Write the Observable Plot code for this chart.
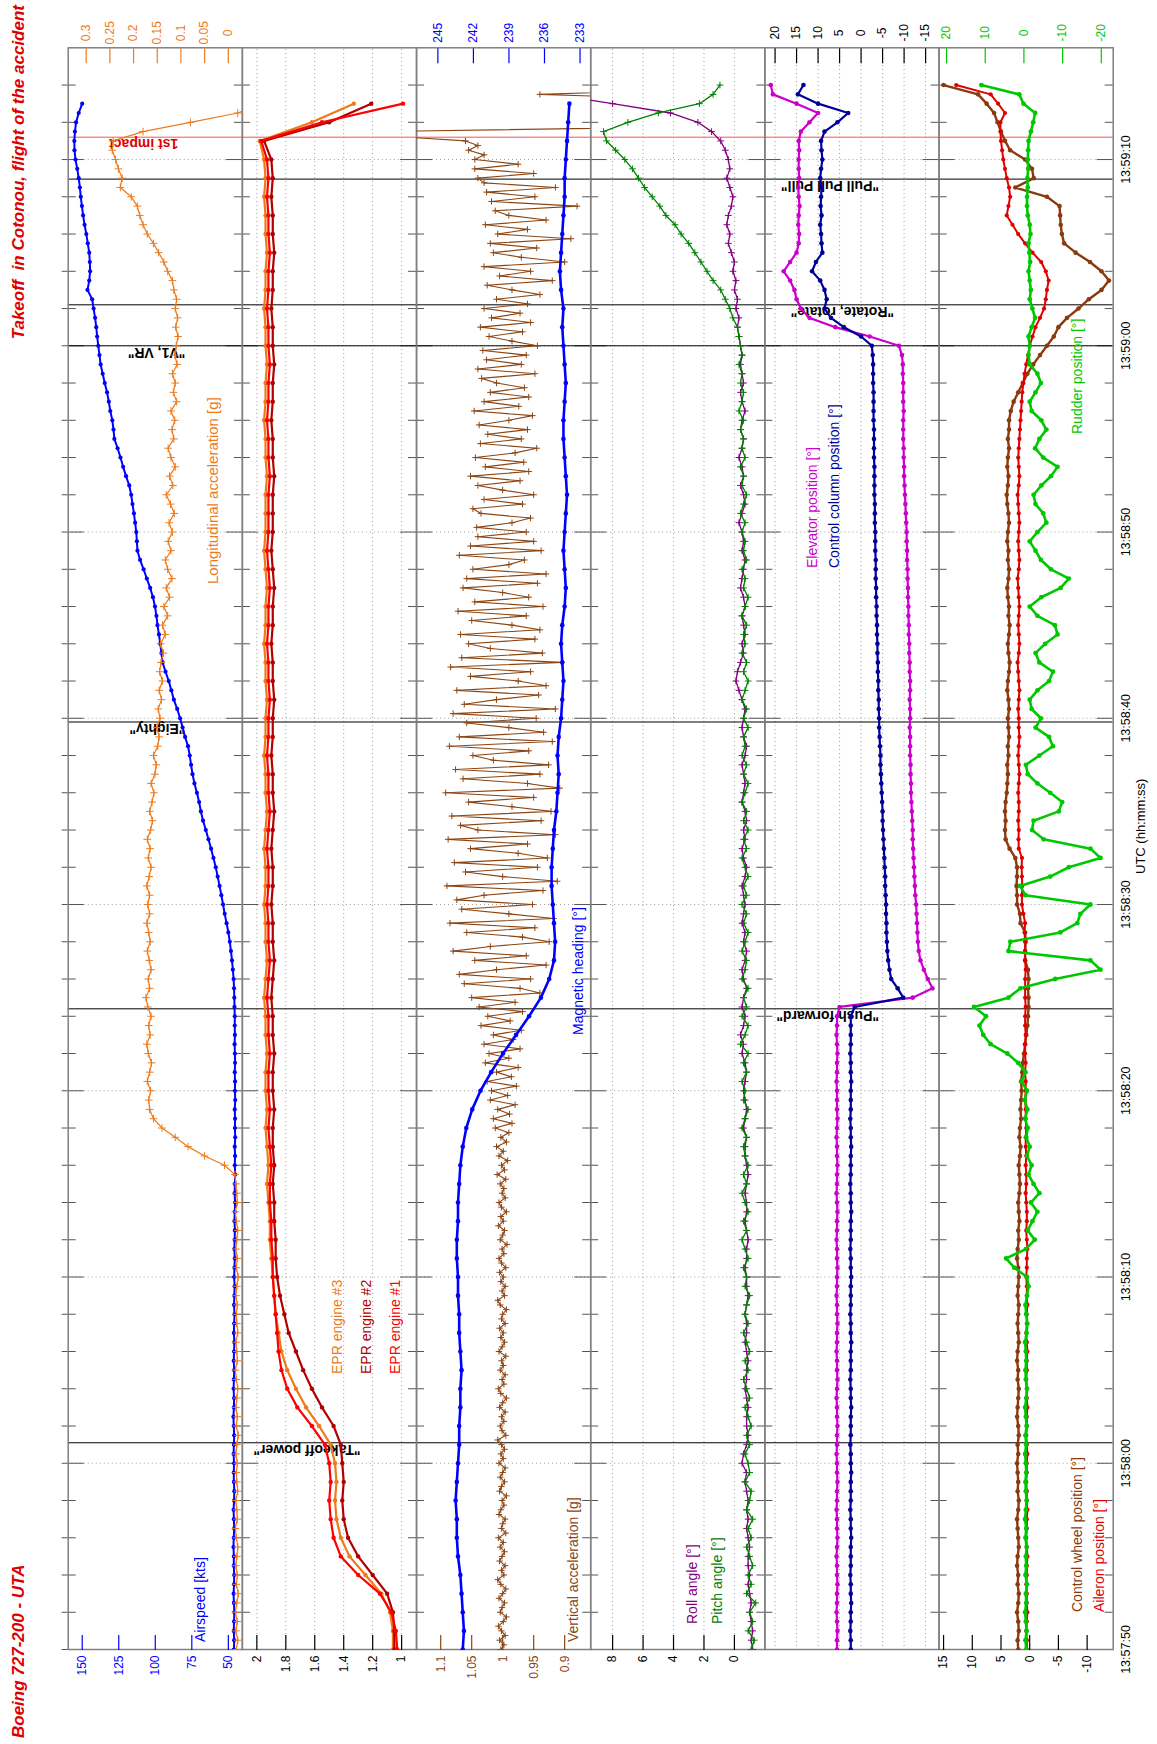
<!DOCTYPE html>
<html><head><meta charset="utf-8">
<script src="https://cdn.jsdelivr.net/npm/d3@7"></script>
<script src="https://cdn.jsdelivr.net/npm/@observablehq/plot@0.6"></script>
<style>
html,body{margin:0;padding:0;background:#fff;}
#page{position:relative;width:1157px;height:1744px;overflow:hidden;background:#fff;}
#land{position:absolute;left:0;top:0;width:1744px;height:1157px;transform-origin:0 0;transform:translateY(1744px) rotate(-90deg);}
#land svg{position:absolute;left:0;top:0;}
</style></head>
<body><div id="page"><div id="land"></div></div>
<script>
// ---------------- DATA (time in seconds after 13:57:50 UTC) ----------------
const airspeedStart = 0, airspeedStep = 0.5;
const airspeed = [
46.2,46.0,46.3,46.1,45.9,46.2,46.4,46.1,46.0,46.3,46.2,46.5,46.3,46.0,46.2,46.4,46.1,45.9,46.2,46.3,
46.1,46.4,46.2,46.0,46.3,46.5,46.2,46.1,46.4,46.2,46.0,46.3,46.1,45.9,46.2,46.0,45.8,46.1,45.9,45.7,
46.0,45.8,45.6,45.9,45.7,45.5,45.8,45.6,45.4,45.7,45.5,45.3,45.6,45.4,45.6,45.3,45.5,45.4,45.6,45.3,
45.5,45.4,45.6,45.4,45.5,45.7,45.5,45.6,45.6,45.8,45.9,46.1,46.4,46.9,
47.5,48.2,49.0,50.0,51.2,52.5,53.6,54.8,56.0,57.3,
58.6,60.2,61.8,63.6,65.4,67.3,68.8,70.0,71.5,73.2,
74.5,75.5,76.4,77.6,79.6,81.3,83.0,85.0,87.3,89.0,
90.8,93.0,95.0,95.8,96.6,97.5,98.5,99.2,100.2,101.6,
103.5,105.8,108.0,110.4,112.2,112.6,113.0,113.8,114.6,115.6,
116.5,117.8,120.0,122.0,123.8,125.8,128.0,128.6,129.4,130.8,
131.8,133.0,134.6,136.0,137.4,138.2,139.0,139.8,140.4,141.2,
142.2,143.2,146.4,145.2,144.6,144.8,145.2,146.2,147.2,148.4,
149.4,150.2,151.0,151.6,152.4,153.4,154.6,155.3,155.4,155.0,
154.2,152.4,150.0];

const longAccStart = 0, longAccStep = 0.5;
const longAcc = [
-0.017,-0.020,-0.016,-0.019,-0.015,-0.018,-0.021,-0.017,-0.019,-0.016,
-0.018,-0.020,-0.017,-0.015,-0.019,-0.018,-0.016,-0.020,-0.018,-0.017,
-0.019,-0.016,-0.018,-0.021,-0.017,-0.019,-0.016,-0.018,-0.020,-0.017,
-0.015,-0.019,-0.018,-0.016,-0.020,-0.018,-0.017,-0.019,-0.016,-0.018,
-0.021,-0.017,-0.019,-0.016,-0.018,-0.020,-0.017,-0.015,-0.019,-0.018,-0.016,
-0.014,0.008,0.050,0.085,0.112,0.140,0.158,0.166,
0.168,0.164,0.171,0.166,0.162,0.169,0.172,0.165,0.168,0.163,0.170,0.174,0.166,0.169,0.163,0.167,0.171,0.165,0.168,0.172,0.166,0.170,
0.166,0.172,0.167,0.163,0.169,0.165,0.171,0.164,0.160,0.166,0.161,0.157,0.163,0.155,0.152,0.158,0.149,0.146,0.151,0.144,
0.148,0.141,0.146,0.139,0.145,0.142,0.137,0.143,0.133,0.139,0.128,0.136,0.124,0.131,0.119,0.128,0.133,0.121,0.127,0.118,
0.125,0.114,0.122,0.131,0.117,0.124,0.112,0.121,0.127,0.115,0.119,0.113,0.121,0.109,0.116,0.112,0.118,0.108,0.113,0.110,
0.106,0.111,0.107,0.112,0.109,0.115,0.118,0.128,0.136,0.147,0.158,0.171,0.180,0.187,0.192,0.205,0.228,0.224,0.232,0.238,0.245,0.243,
0.180,0.080,-0.020,-0.070];

const eprStart = 0, eprStep = 1;
const epr1 = [
1.03,1.04,1.07,1.15,1.30,1.42,1.47,1.49,1.50,1.49,1.50,
1.53,1.62,1.72,1.79,1.83,1.85,1.86,1.87,1.88,1.89,
1.89,1.90,1.90,1.91,1.91,1.90,1.91,1.92,1.91,1.92,
1.92,1.91,1.92,1.92,1.93,1.92,1.91,1.92,1.92,1.93,
1.92,1.92,1.93,1.92,1.91,1.92,1.92,1.93,1.92,1.92,
1.91,1.92,1.92,1.93,1.92,1.92,1.91,1.92,1.93,1.92,
1.92,1.92,1.91,1.92,1.92,1.93,1.92,1.92,1.91,1.92,
1.92,1.93,1.92,1.92,1.91,1.92,1.92,1.93,1.92,1.93,
1.97,1.55,0.99];
const epr2 = [
1.05,1.05,1.06,1.10,1.20,1.30,1.37,1.40,1.41,1.40,1.41,
1.42,1.47,1.55,1.62,1.68,1.73,1.78,1.81,1.84,1.86,
1.87,1.87,1.88,1.88,1.89,1.88,1.89,1.89,1.88,1.89,
1.89,1.88,1.89,1.89,1.90,1.89,1.88,1.89,1.89,1.90,
1.89,1.89,1.90,1.89,1.88,1.89,1.89,1.90,1.89,1.89,
1.88,1.89,1.89,1.90,1.89,1.89,1.88,1.89,1.90,1.89,
1.89,1.89,1.88,1.89,1.89,1.90,1.89,1.89,1.88,1.89,
1.89,1.90,1.89,1.89,1.88,1.89,1.89,1.90,1.89,1.90,
1.95,1.50,1.21];
const epr3 = [
1.06,1.06,1.08,1.14,1.25,1.36,1.42,1.45,1.46,1.45,1.46,
1.49,1.57,1.66,1.73,1.79,1.83,1.85,1.87,1.88,1.89,
1.90,1.91,1.91,1.92,1.93,1.92,1.93,1.94,1.93,1.94,
1.94,1.93,1.94,1.94,1.95,1.94,1.93,1.94,1.94,1.95,
1.94,1.94,1.95,1.94,1.93,1.94,1.94,1.95,1.94,1.94,
1.93,1.94,1.94,1.95,1.94,1.94,1.93,1.94,1.95,1.94,
1.94,1.94,1.93,1.94,1.94,1.95,1.94,1.94,1.93,1.94,
1.94,1.95,1.94,1.94,1.93,1.94,1.94,1.95,1.94,1.95,
1.98,1.62,1.33];

const headingStart = 0, headingStep = 1;
const heading = [
242.9,242.8,242.9,243.0,243.1,243.3,243.4,243.4,243.5,243.4,
243.3,243.2,243.2,243.1,243.1,243.0,243.1,243.2,243.2,243.3,
243.3,243.4,243.4,243.3,243.3,243.2,243.1,242.9,242.6,242.1,
241.4,240.5,239.5,238.4,237.3,236.3,235.6,235.2,235.1,235.2,
235.3,235.4,235.4,235.3,235.2,235.0,234.9,234.8,234.9,234.8,
234.6,234.5,234.4,234.5,234.6,234.5,234.3,234.2,234.3,234.4,
234.3,234.2,234.1,234.2,234.3,234.4,234.4,234.3,234.2,234.3,
234.4,234.5,234.4,234.6,234.7,234.6,234.5,234.4,234.3,234.3,
234.2,234.1,234.0,233.9];

const vertAccStart = 0, vertAccStep = 0.25;
const vertAcc = [
1.003,0.998,1.005,0.996,1.002,1.007,0.999,0.994,1.004,1.001,
0.997,1.006,1.000,0.995,1.003,1.008,0.998,1.002,0.996,1.005,
1.001,0.997,1.004,0.999,1.007,0.995,1.002,1.000,0.996,1.006,
1.003,0.998,1.001,0.994,1.005,1.002,0.997,1.004,1.000,0.996,
1.006,0.999,1.003,0.997,1.002,1.008,0.995,1.001,1.004,0.998,
1.002,0.996,1.005,1.000,0.994,1.003,1.007,0.998,1.001,0.996,
1.004,0.999,1.002,0.995,1.006,1.001,0.997,1.003,0.999,1.005,
0.996,1.002,1.000,0.994,1.004,1.008,0.997,1.001,0.996,1.003,
0.999,1.005,0.995,1.002,1.006,0.998,1.001,0.993,1.004,1.000,
0.997,1.007,0.999,1.003,0.994,1.002,1.006,0.996,1.001,0.998,
1.004,0.995,1.009,0.997,1.002,0.992,1.006,0.999,1.010,0.994,
1.003,0.990,
1.012,0.985,1.015,0.989,1.008,0.980,1.020,0.992,1.018,0.978,
1.025,0.986,1.010,0.975,1.028,0.990,1.022,0.972,1.030,0.983,
1.015,0.970,1.035,0.988,1.024,0.968,1.038,0.980,
1.050,0.940,0.972,1.062,0.955,1.070,1.010,0.930,1.045,0.962,
1.080,1.020,0.925,0.968,1.058,0.948,1.085,0.918,0.990,1.066,
0.952,1.074,1.030,0.935,1.090,0.912,1.000,1.060,0.944,1.078,
0.928,0.975,1.052,0.960,1.088,0.915,1.040,1.068,0.938,1.082,
0.922,0.985,1.055,0.950,1.092,0.908,0.960,1.064,0.940,1.076,
0.926,1.015,1.048,0.958,1.086,0.920,1.070,0.934,0.990,1.058,
0.946,1.080,0.915,1.062,1.010,0.942,1.074,0.930,0.975,1.052,
0.955,1.084,0.905,1.066,0.936,1.020,1.055,0.948,1.068,0.940,
0.985,1.050,0.962,1.072,0.935,1.045,0.958,1.000,1.064,0.944,
1.058,0.930,1.048,0.990,0.965,1.070,0.938,1.052,0.950,1.040,
0.962,1.042,0.985,0.955,1.035,1.048,0.968,1.030,0.950,1.000,
1.040,0.972,1.052,0.958,1.028,0.966,1.044,0.980,0.945,1.036,
0.970,1.024,0.960,1.038,0.990,0.952,1.046,0.974,1.030,0.958,
1.020,0.965,1.010,1.034,0.948,1.040,0.970,1.026,0.962,1.032,
0.944,0.985,1.022,0.968,1.036,0.955,1.018,0.972,
1.030,0.960,1.010,0.940,0.985,1.025,0.920,1.005,0.955,1.030,
0.900,0.970,1.015,0.945,1.020,0.890,1.008,0.960,1.028,0.930,
0.990,1.012,0.880,1.018,0.948,1.026,0.915,1.030,1.040,0.950,
1.045,0.975,
1.045,1.030,1.055,1.040,1.060,1.180,1.200,0.700,0.700,0.700,0.700,0.700,0.700,0.700,0.940,0.700];

const rollStart = 0, rollStep = 0.5;
const roll = [
-1.2,-1.1,-1.2,-1.1,-1.0,-1.1,-1.0,-0.9,-1.0,-0.9,-0.9,-1.0,-0.9,-0.8,-0.9,-0.8,-0.9,-0.8,-0.7,-0.8,
-0.5,-0.6,-0.8,-0.9,-0.8,-0.8,-0.9,-0.8,-0.7,-0.8,-0.8,-0.9,-0.8,-0.7,-0.8,-0.8,-0.7,-0.8,-0.9,-0.8,
-0.8,-0.7,-0.8,-0.8,-0.9,-0.8,-0.7,-0.8,-0.8,-0.7,-0.8,-0.9,-0.8,-0.7,-0.7,-0.8,-0.6,-0.7,-0.8,-0.7,
-0.6,-0.7,-0.8,-0.7,-0.5,-0.6,-0.4,-0.6,-0.7,-0.5,-0.6,-0.8,-0.6,-0.5,-0.7,-0.8,-0.6,-0.7,-0.5,-0.6,
-0.7,-0.6,-0.5,-0.7,-0.8,-0.6,-0.5,-0.7,-0.6,-0.8,-0.7,-0.5,-0.6,-0.7,-0.6,-0.5,-0.7,-0.8,-0.6,-0.5,
-0.6,-0.7,-0.5,-0.3,-0.1,-0.2,-0.4,-0.6,-0.5,-0.7,-0.6,-0.5,-0.7,-0.6,-0.4,-0.5,-0.6,-0.7,-0.5,-0.6,
-0.5,-0.3,-0.5,-0.7,-0.6,-0.4,-0.6,-0.5,-0.3,-0.5,-0.6,-0.4,-0.5,-0.7,-0.5,-0.4,-0.6,-0.5,-0.4,-0.5,
-0.4,-0.3,-0.2,-0.3,-0.1,-0.2,0.0,-0.1,0.1,0.0,0.2,0.4,0.3,0.5,0.4,0.2,0.1,0.3,0.5,0.3,
0.4,0.6,0.9,1.5,2.4,4.2,8.0,12.0];

const pitchStart = 0, pitchStep = 0.5;
const pitch = [
-1.1,-1.3,-0.9,-1.2,-1.0,-1.4,-0.8,-1.1,-0.9,-1.2,-1.0,-0.8,-1.1,-0.9,-1.2,-0.8,-1.0,-1.1,-0.7,-1.0,
-0.9,-0.7,-1.0,-0.8,-1.1,-0.9,-0.7,-1.0,-0.8,-0.6,-0.9,-0.7,-1.0,-0.8,-0.6,-0.9,-0.7,-0.8,-1.0,-0.7,
-0.8,-0.6,-0.9,-0.7,-0.5,-0.8,-0.6,-0.9,-0.7,-0.5,-0.8,-0.6,-0.9,-0.7,-0.6,-0.8,-0.5,-0.7,-0.9,-0.6,
-0.7,-0.5,-0.8,-0.6,-0.9,-0.4,-0.7,-0.9,-0.5,-0.8,-0.6,-0.9,-0.5,-0.7,-0.8,-0.5,-0.7,-0.9,-0.6,-0.8,
-0.5,-0.8,-0.6,-0.9,-0.7,-0.5,-0.8,-0.6,-0.9,-0.6,-0.8,-0.5,-0.7,-0.9,-0.6,-0.8,-0.5,-0.7,-0.6,-0.9,
-0.6,-0.8,-0.5,-0.7,-0.9,-0.6,-0.8,-0.5,-0.7,-0.6,-0.8,-0.5,-0.7,-0.9,-0.6,-0.7,-0.5,-0.8,-0.6,-0.7,
-0.5,-0.7,-0.4,-0.6,-0.8,-0.5,-0.6,-0.4,-0.7,-0.5,-0.6,-0.4,-0.6,-0.3,-0.5,-0.6,-0.4,-0.5,-0.3,-0.5,
-0.4,-0.3,-0.2,0.1,0.3,0.6,0.9,1.4,1.8,2.2,2.6,3.0,3.5,3.9,4.5,4.9,5.4,5.9,6.3,6.7,
7.2,7.8,8.4,8.6,7.0,5.0,2.3,1.4,0.95];

const elevatorStart = 0, elevatorStep = 0.5;
const elevator = [
5.6,5.6,5.5,5.6,5.7,5.6,5.6,5.5,5.6,5.6,5.7,5.6,5.5,5.6,5.6,5.7,5.6,5.6,5.5,5.6,
5.6,5.7,5.6,5.6,5.5,5.6,5.6,5.7,5.6,5.5,5.6,5.6,5.7,5.6,5.6,5.5,5.6,5.6,5.7,5.6,
5.6,5.5,5.6,5.6,5.7,5.6,5.6,5.5,5.6,5.7,5.6,5.6,5.5,5.6,5.6,5.7,5.6,5.5,5.6,5.6,
5.6,5.7,5.6,5.6,5.5,5.6,5.7,5.6,5.6,5.0,-12.0,-16.6,-15.5,-14.6,-13.8,-13.4,-13.2,-13.1,-13.0,-12.9,
-12.8,-12.6,-12.5,-12.4,-12.3,-12.2,-12.1,-12.0,-12.0,-11.9,-11.8,-11.7,-11.6,-11.6,-11.5,-11.5,-11.4,-11.4,-11.4,-11.3,
-11.4,-11.4,-11.3,-11.4,-11.4,-11.3,-11.3,-11.2,-11.2,-11.1,-11.1,-11.0,-11.0,-10.9,-10.9,-10.8,-10.8,-10.7,-10.7,-10.6,
-10.6,-10.5,-10.4,-10.3,-10.2,-10.1,-10.0,-10.0,-9.9,-9.9,-9.8,-9.8,-9.8,-9.9,-9.8,-9.8,-9.8,-9.7,-9.7,-9.5,
-8.8,-2.0,6.0,12.0,14.0,15.0,15.5,16.5,18.0,16.5,15.0,14.5,14.4,14.6,14.5,14.3,14.5,14.6,14.4,14.5,
14.5,14.4,14.5,14.0,12.0,10.0,15.0,20.5,21.0];

const columnStart = 0, columnStep = 0.5;
const column = [
2.4,2.4,2.5,2.4,2.4,2.3,2.4,2.4,2.5,2.4,2.4,2.4,2.3,2.4,2.4,2.5,2.4,2.4,2.4,2.3,
2.4,2.4,2.5,2.4,2.4,2.4,2.3,2.4,2.4,2.5,2.4,2.4,2.4,2.3,2.4,2.4,2.5,2.4,2.4,2.4,
2.3,2.4,2.4,2.5,2.4,2.4,2.4,2.3,2.4,2.4,2.5,2.4,2.4,2.4,2.3,2.4,2.4,2.5,2.4,2.4,
2.4,2.3,2.4,2.4,2.5,2.4,2.4,2.4,2.4,1.5,-9.8,-8.5,-7.0,-6.6,-6.3,-6.1,-6.0,-5.9,-5.9,-5.8,
-5.8,-5.7,-5.6,-5.6,-5.5,-5.4,-5.3,-5.2,-5.1,-5.0,-5.0,-4.9,-4.8,-4.7,-4.6,-4.5,-4.5,-4.4,-4.3,-4.2,
-4.2,-4.1,-4.1,-4.0,-4.0,-3.9,-3.9,-3.8,-3.8,-3.7,-3.7,-3.6,-3.6,-3.5,-3.5,-3.4,-3.4,-3.4,-3.3,-3.3,
-3.3,-3.2,-3.2,-3.2,-3.1,-3.1,-3.1,-3.1,-3.0,-3.0,-3.0,-3.0,-2.9,-2.9,-2.9,-2.9,-2.8,-2.8,-2.8,-2.7,
-2.5,0.0,4.0,7.0,8.5,8.0,8.5,9.5,11.4,10.5,9.0,9.2,9.3,9.5,9.2,9.4,9.3,9.2,9.5,9.3,
9.0,9.2,9.3,8.5,5.5,3.0,10.0,14.7,13.4];

const rudderStart = 0, rudderStep = 0.5;
const rudder = [
-0.6,-0.4,-0.7,-0.5,-0.3,-0.6,-0.5,-0.8,-0.4,-0.6,-0.5,-0.7,-0.4,-0.6,-0.3,-0.5,-0.7,-0.5,-0.4,-0.6,
-0.5,-0.3,-0.6,-0.4,-0.7,-0.5,-0.3,-0.6,-0.8,-0.5,-0.4,-0.6,-0.5,-0.3,-0.7,-0.9,-0.6,-0.4,-0.8,-1.2,
-0.8,2.5,4.6,-0.5,-2.8,-1.0,-2.2,-3.5,-1.8,-4.0,-2.5,-1.2,-2.0,-0.8,-1.5,-0.6,-1.0,-0.3,-0.9,-0.2,
-0.8,0.6,-0.4,1.5,4.3,8.6,10.5,11.5,9.8,12.9,4.0,0.9,-8.1,-19.8,-17.2,4.0,3.5,-9.4,-13.8,-14.6,
-17.2,-0.4,1.0,-6.8,-11.6,-19.8,-17.2,-5.1,-2.1,-2.5,-9.0,-9.9,-6.8,-3.5,-1.0,-0.5,-4.0,-7.5,-6.5,-3.0,
-4.4,-2.0,-1.5,-3.5,-6.5,-7.5,-4.0,-3.0,-5.5,-8.7,-8.0,-3.5,-1.5,-4.5,-9.5,-11.6,-7.0,-4.4,-3.0,-1.5,
-3.5,-5.8,-5.0,-3.0,-2.5,-4.5,-7.0,-8.7,-5.0,-2.9,-4.0,-5.8,-4.5,-2.0,-1.5,-3.0,-4.4,-3.5,-1.5,-1.2,
-1.5,-1.2,-2.0,-2.9,-2.2,-1.5,-1.8,-1.5,-1.2,-1.6,-1.4,-1.2,-1.7,-1.5,-1.0,-0.8,-0.8,-1.0,-0.9,-1.1,
-1.0,-1.1,-1.2,-1.8,-2.4,-2.9,0.1,1.2,11.0];

const wheelStart = 0, wheelStep = 0.5;
const wheel = [
2.0,2.1,1.9,2.0,2.2,2.0,1.9,2.1,2.0,2.2,2.1,1.9,2.0,2.1,2.2,2.0,1.9,2.1,2.0,2.1,
2.2,2.0,2.1,1.9,2.0,2.2,2.1,2.0,1.9,2.1,2.0,2.2,2.1,1.9,2.0,2.1,2.0,1.9,2.1,2.0,
1.9,2.0,2.2,2.1,1.9,2.0,1.8,1.9,2.0,1.8,1.7,1.8,1.9,1.7,1.6,1.8,1.7,1.5,1.6,1.5,
1.4,1.5,1.3,1.2,1.0,0.8,0.6,0.4,0.3,0.2,0.2,0.3,0.2,0.3,0.8,0.8,0.7,0.8,1.6,1.7,
2.2,2.2,2.3,2.2,2.2,2.5,3.5,4.2,4.3,4.2,4.3,4.2,4.0,3.9,3.8,3.9,3.7,3.8,3.6,3.7,
3.8,3.6,3.7,3.9,3.8,3.6,3.5,3.7,3.8,3.6,3.5,3.7,3.6,3.8,3.9,3.7,3.6,3.8,3.7,3.9,
3.8,3.6,3.7,3.9,4.0,3.8,3.7,3.9,3.8,3.6,3.8,3.6,3.6,3.3,2.8,2.0,1.2,0.4,-0.6,-1.8,
-3.0,-4.2,-5.0,-6.5,-8.5,-10.3,-12.5,-13.8,-12.5,-10.5,-8.0,-6.0,-5.6,-5.4,-5.3,-5.2,-3.0,2.5,-0.7,-0.4,
0.8,3.4,4.3,5.0,5.6,6.2,7.5,9.0,15.0];

const aileronStart = 0, aileronStep = 0.5;
const aileron = [
0.5,0.5,0.6,0.5,0.4,0.5,0.5,0.6,0.5,0.5,0.4,0.5,0.6,0.5,0.5,0.4,0.5,0.5,0.6,0.5,
0.5,0.4,0.5,0.6,0.5,0.5,0.4,0.5,0.5,0.6,0.5,0.5,0.4,0.5,0.6,0.5,0.5,0.4,0.5,0.5,
0.6,0.5,0.5,0.4,0.5,0.6,0.5,0.5,0.6,0.7,0.6,0.6,0.7,0.6,0.7,0.7,0.6,0.7,0.7,0.8,
0.7,0.7,0.8,0.7,0.8,0.8,0.7,0.8,0.8,0.7,0.8,0.8,0.8,0.7,0.8,0.8,0.8,0.9,0.8,1.1,
1.35,1.35,1.3,1.35,1.4,1.35,1.9,1.95,1.9,2.0,1.9,1.9,2.0,1.9,1.8,1.9,2.0,1.9,1.8,1.9,
1.9,2.0,1.9,1.8,1.9,2.0,2.1,1.9,1.8,1.9,2.0,1.9,1.8,1.9,2.0,2.1,1.9,1.8,1.9,2.0,
1.9,1.8,1.9,2.0,2.1,1.9,1.8,1.9,2.0,1.9,1.8,1.7,1.6,1.5,1.4,1.3,1.1,0.9,0.6,0.3,
0.0,-0.5,-1.0,-1.8,-2.5,-2.8,-3.0,-3.3,-2.8,-2.0,-0.5,0.8,2.0,3.0,4.0,3.7,3.4,3.6,4.0,4.3,
4.6,4.8,5.0,5.1,5.1,4.3,5.5,6.8,12.8];

// events (seconds after 13:57:50)
const eventSecs = [11.1, 34.4, 49.8, 70.0, 72.2, 78.95];
const eventLabels = ['"Takeoff power"', '"Push forward"', '"Eighty"', '"V1, VR"', '"Rotate, rotate"', '"Pull Pull Pull"'];
const impactSec = 81.2;
const impactLabel = "1st impact";

// tick labels
const airspeedTicks = [50, 75, 100, 125, 150];
const longAccTicks = [0, 0.05, 0.1, 0.15, 0.2, 0.25, 0.3];
const eprTicks = [1, 1.2, 1.4, 1.6, 1.8, 2];
const headingTicks = [233, 236, 239, 242, 245];
const vertAccTicks = [0.9, 0.95, 1, 1.05, 1.1];
const attitudeTicks = [0, 2, 4, 6, 8];
const elevatorTicks = [-15, -10, -5, 0, 5, 10, 15, 20];
const rudderTicks = [-20, -10, 0, 10, 20];
const wheelTicks = [-10, -5, 0, 5, 10, 15];

// ---------------- LAYOUT (landscape, rotated -90deg afterwards) ----------------
const W = 1744, H = 1157;
const ML = 94, MR = 48.3;
const TOP = 67.7, BOTTOM = 1112.7, NP = 6, PH = (BOTTOM - TOP) / NP;
const innerW = W - ML - MR;
const FONT = "'Liberation Sans', Arial, Helvetica, sans-serif";
const C = {
  blue: "#0000ff", orange: "#ee7a1a", red: "#ff0000", darkred: "#b00000",
  brown: "#8b4513", purple: "#800080", green: "#008000", magenta: "#cc00cc",
  navy: "#000099", rudder: "#00c800", wheel: "#8b3a0f", aileron: "#e00000",
  frame: "#808080", grid: "#a0a0a0", tick: "#555555", impact: "#ff5050"
};
const eventLayout = [
  {panel: 1, off: 56}, {panel: 4, off: 60}, {panel: 0, off: 57},
  {panel: 0, off: 57}, {panel: 4, off: 45}, {panel: 4, off: 60}
];

const BASE = Date.UTC(2003, 11, 25, 13, 57, 50);
const T = s => new Date(BASE + s * 1000);
const series = (start, step, vals) => vals.map((v, i) => ({time: T(start + i * step), value: v}));
const xDomain = [T(0), T(86)];
const majorT = d3.range(0, 81, 10).map(T);
const minorT = d3.range(2, 86, 2).filter(s => s % 10 !== 0).map(T);

const land = document.getElementById("land");

function leftAxis(ticks, color, fmt) {
  return [
    Plot.tickY(ticks, {y: d => d, stroke: color, strokeWidth: 1.2, insetRight: innerW - 15}),
    Plot.axisY({anchor: "left", ticks, tickSize: 0, tickPadding: 6, tickFormat: fmt, fill: color, fontSize: 12, label: null})
  ];
}
function rightAxis(ticks, color, fmt) {
  return [
    Plot.tickY(ticks, {y: d => d, stroke: color, strokeWidth: 1.2, insetLeft: innerW - 15}),
    Plot.axisY({anchor: "right", ticks, tickSize: 0, tickPadding: 15, textAnchor: "middle", tickFormat: fmt, fill: color, fontSize: 12, label: null})
  ];
}
function baseMarks(i, valueGrid) {
  const m = [];
  m.push(Plot.ruleX(majorT, {x: d => d, stroke: C.grid, strokeDasharray: "1,3"}));
  if (valueGrid) m.push(Plot.ruleY(valueGrid, {y: d => d, stroke: C.grid, strokeDasharray: "1,3"}));
  m.push(Plot.tickX(minorT, {x: d => d, stroke: C.tick, insetTop: i === 0 ? -6 : 0, insetBottom: PH - 8}));
  m.push(Plot.tickX(minorT, {x: d => d, stroke: C.tick, insetTop: PH - 8}));
  m.push(Plot.tickX(majorT, {x: d => d, stroke: C.tick, insetTop: i === 0 ? -6 : 0, insetBottom: PH - 16}));
  m.push(Plot.tickX(majorT, {x: d => d, stroke: C.tick, insetTop: PH - 16}));
  m.push(Plot.ruleX(eventSecs, {x: d => T(d), stroke: "#000", strokeWidth: 1}));
  m.push(Plot.ruleX([impactSec], {x: d => T(d), stroke: C.impact, strokeWidth: 1}));
  m.push(Plot.frame({stroke: C.frame, strokeWidth: 1.5}));
  eventSecs.forEach((s, k) => {
    if (eventLayout[k].panel !== i) return;
    m.push(Plot.text([s], {x: d => T(d), text: [eventLabels[k]], frameAnchor: "bottom", rotate: -90,
      textAnchor: "start", lineAnchor: "bottom", dx: -2, dy: -eventLayout[k].off,
      fontWeight: "bold", fontSize: 14, fill: "#000"}));
  });
  if (i === 0) {
    m.push(Plot.text([impactSec], {x: d => T(d), text: [impactLabel], frameAnchor: "bottom", rotate: -90,
      textAnchor: "start", lineAnchor: "bottom", dx: -2, dy: -64, fontWeight: "bold", fontSize: 14, fill: "#e00000"}));
  }
  return m;
}
function lineWithDots(data, color, sw, r) {
  return [
    Plot.line(data, {x: "time", y: "value", stroke: color, strokeWidth: sw, clip: true}),
    Plot.dot(data, {x: "time", y: "value", fill: color, r, clip: true})
  ];
}
function lineWithPlus(data, color, sw, r) {
  return [
    Plot.line(data, {x: "time", y: "value", stroke: color, strokeWidth: sw, clip: true}),
    Plot.dot(data, {x: "time", y: "value", symbol: "plus", stroke: color, strokeWidth: 1, r, clip: true})
  ];
}
function panel(i, yDomain, marks) {
  const top = TOP + i * PH, bottom = top + PH;
  const el = Plot.plot({
    width: W, height: H,
    marginLeft: ML, marginRight: MR, marginTop: top, marginBottom: H - bottom,
    x: {type: "utc", domain: xDomain, axis: null},
    y: {domain: yDomain, axis: null},
    style: {background: "transparent", overflow: "visible", fontFamily: FONT},
    marks
  });
  land.appendChild(el);
}
const fmt = d => String(d);

// Panel 0: airspeed (left) + longitudinal acceleration (right)
panel(0, [40.4, 159.6], [
  ...baseMarks(0, null),
  ...lineWithDots(series(airspeedStart, airspeedStep, airspeed), C.blue, 2, 2.1),
  ...leftAxis(airspeedTicks, C.blue, fmt)
]);
panel(0, [-0.0297, 0.338], [
  ...lineWithPlus(series(longAccStart, longAccStep, longAcc), C.orange, 1.2, 2.6),
  ...rightAxis(longAccTicks, C.orange, fmt)
]);
// Panel 1: EPR
panel(1, [0.897, 2.10], [
  ...baseMarks(1, eprTicks),
  ...lineWithDots(series(eprStart, eprStep, epr3), C.orange, 2.2, 2.2),
  ...lineWithDots(series(eprStart, eprStep, epr2), C.darkred, 2.2, 2.2),
  ...lineWithDots(series(eprStart, eprStep, epr1), C.red, 2.2, 2.2),
  ...leftAxis(eprTicks, "#000", fmt)
]);
// Panel 2: vertical acceleration (left) + heading (right)
panel(2, [0.858, 1.139], [
  ...baseMarks(2, null),
  ...lineWithPlus(series(vertAccStart, vertAccStep, vertAcc), C.brown, 1.1, 2.2),
  ...leftAxis(vertAccTicks, C.brown, fmt)
]);
panel(2, [232.1, 246.8], [
  ...lineWithDots(series(headingStart, headingStep, heading), C.blue, 2.6, 2.3),
  ...rightAxis(headingTicks, C.blue, fmt)
]);
// Panel 3: roll & pitch
panel(3, [-2.0, 9.44], [
  ...baseMarks(3, attitudeTicks),
  ...lineWithPlus(series(rollStart, rollStep, roll), C.purple, 1.3, 2.3),
  ...lineWithPlus(series(pitchStart, pitchStep, pitch), C.green, 1.3, 2.3),
  ...leftAxis(attitudeTicks, "#000", fmt)
]);
// Panel 4: elevator & control column
panel(4, [-18.12, 22.37], [
  ...baseMarks(4, elevatorTicks),
  ...lineWithDots(series(elevatorStart, elevatorStep, elevator), C.magenta, 2.2, 2.3),
  ...lineWithDots(series(columnStart, columnStep, column), C.navy, 2.2, 2.3),
  ...rightAxis(elevatorTicks, "#000", fmt)
]);
// Panel 5: control wheel & aileron (left) + rudder (right) + time axis
panel(5, [-14.54, 15.79], [
  ...baseMarks(5, null),
  ...lineWithDots(series(wheelStart, wheelStep, wheel), C.wheel, 2.4, 2.3),
  ...lineWithDots(series(aileronStart, aileronStep, aileron), C.aileron, 2, 2.1),
  ...leftAxis(wheelTicks, "#000", fmt),
  Plot.axisX({anchor: "bottom", ticks: majorT, tickSize: 0, tickPadding: 8, tickFormat: d3.utcFormat("%H:%M:%S"), fontSize: 12.5, fill: "#000", label: null})
]);
panel(5, [-23.08, 21.94], [
  ...lineWithDots(series(rudderStart, rudderStep, rudder), C.rudder, 2.6, 2.4),
  ...rightAxis(rudderTicks, C.rudder, fmt)
]);

// ---------------- titles and series labels ----------------
const ov = d3.create("svg").attr("width", W).attr("height", H).style("overflow", "visible")
  .attr("font-family", FONT);
ov.append("text").attr("x", 6).attr("y", 24).attr("fill", "#dd0000").attr("font-size", 17)
  .attr("font-weight", "bold").attr("font-style", "italic").text("Boeing 727-200 - UTA");
ov.append("text").attr("x", 1739).attr("y", 24).attr("text-anchor", "end").attr("fill", "#dd0000").attr("font-size", 17)
  .attr("font-weight", "bold").attr("font-style", "italic").attr("xml:space", "preserve").style("white-space", "pre")
  .text("Takeoff  in Cotonou, flight of the accident");
const labels = [
  {t: "Airspeed [kts]", x: 102, y: 200, c: C.blue},
  {t: "Longitudinal acceleration [g]", x: 1160, y: 213, c: C.orange},
  {t: "EPR engine #3", x: 370, y: 337, c: C.orange},
  {t: "EPR engine #2", x: 370, y: 366, c: C.darkred},
  {t: "EPR engine #1", x: 370, y: 395, c: C.red},
  {t: "Vertical acceleration [g]", x: 102, y: 573, c: C.brown},
  {t: "Magnetic heading [°]", x: 709, y: 578, c: C.blue},
  {t: "Roll angle [°]", x: 120, y: 692, c: C.purple},
  {t: "Pitch angle [°]", x: 120, y: 717, c: C.green},
  {t: "Elevator position [°]", x: 1176, y: 812, c: C.magenta},
  {t: "Control column position [°]", x: 1176, y: 834, c: C.navy},
  {t: "Control wheel position [°]", x: 132, y: 1077, c: C.wheel},
  {t: "Aileron position [°]", x: 132, y: 1099, c: C.aileron},
  {t: "Rudder position [°]", x: 1310, y: 1077, c: C.rudder}
];
labels.forEach(l => ov.append("text").attr("x", l.x).attr("y", l.y).attr("dy", "0.35em")
  .attr("fill", l.c).attr("font-size", l.t.startsWith("Longitudinal") ? 15 : 14).text(l.t));
ov.append("text").attr("x", 870).attr("y", 1140).attr("dy", "0.35em").attr("fill", "#000")
  .attr("font-size", 13).text("UTC (hh:mm:ss)");
land.appendChild(ov.node());
</script>
</body></html>
